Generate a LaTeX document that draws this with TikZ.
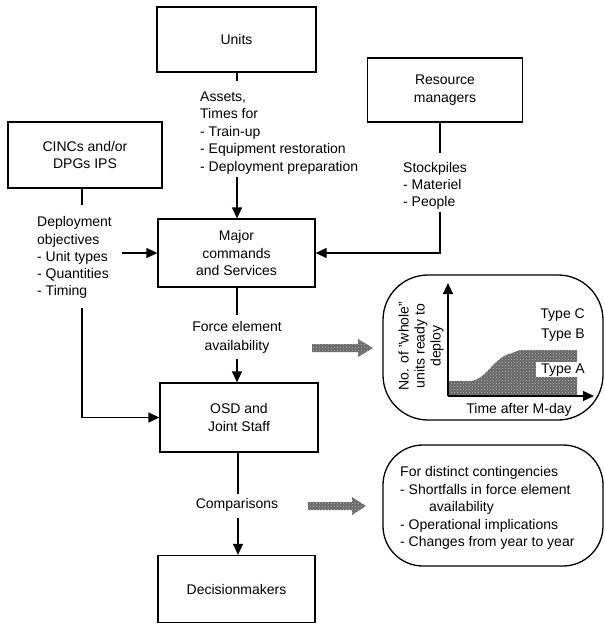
\documentclass[tikz,border=0pt]{standalone}
\usepackage{fontspec}
\setmainfont{Liberation Sans}
\usetikzlibrary{arrows.meta,patterns}
\begin{document}
\begin{tikzpicture}[x=1pt,y=-1pt,
  every node/.style={font=\fontsize{14}{17.5}\selectfont, inner sep=0pt},
  box/.style={draw, line width=1.3pt, align=center},
  ln/.style={line width=1.3pt},
  arr/.style={line width=1.3pt, -{Triangle[length=11pt,width=10pt]}},
  txt/.style={align=left, anchor=north west},
  hatch/.style={fill=black!60, postaction={pattern=crosshatch dots, pattern color=white!75!black}},
  oval/.style={draw, line width=1.3pt}
]
\useasboundingbox (0,0) rectangle (605,625);

% boxes
\node[box, minimum width=159, minimum height=65] (units) at (236.5,39.5) {Units};
\node[box, minimum width=155, minimum height=64] (rm) at (445,90) {Resource\\managers};
\node[box, minimum width=154, minimum height=66] (cincs) at (85,155) {CINCs and/or\\DPGs IPS};
\node[box, minimum width=157, minimum height=68] (mc) at (236.5,253) {Major\\commands\\and Services};
\node[box, minimum width=158, minimum height=69] (osd) at (239,417.5) {OSD and\\Joint Staff};
\node[box, minimum width=157, minimum height=67] (dec) at (236.5,589) {Decisionmakers};

% flow labels
\node[txt] (assets) at (200,91.5) {Assets,\\Times for\\- Train-up\\- Equipment restoration\\- Deployment preparation};
\node[txt, font=\fontsize{14}{17}\selectfont] (stock) at (403,162.5) {Stockpiles\\- Materiel\\- People};
\node[txt, font=\fontsize{14}{17.25}\selectfont] (depl) at (37,216.5) {Deployment\\objectives\\- Unit types\\- Quantities\\- Timing};
\node[align=center, font=\fontsize{14}{19}\selectfont] (fea) at (237,337.5) {Force element\\availability};
\node (comp) at (237,505) {Comparisons};

% connectors
\coordinate (u1) at (237,81);
\coordinate (u2) at (237,177);
\draw[ln] (units.south -| u1) -- (u1);
\draw[arr] (u2) -- (u2 |- mc.north);

\coordinate (r1) at (440,153);
\coordinate (r2) at (440,212);
\draw[ln] (rm.south -| r1) -- (r1);
\draw[arr] (r2) |- (mc.east);

\coordinate (c1) at (82,205);
\draw[ln] (cincs.south -| c1) -- (c1);
\coordinate (c2) at (122,253);
\draw[arr] (c2) -- (mc.west);
\coordinate (c3) at (82,308);
\draw[arr] (c3) |- (osd.west);

\coordinate (m1) at (237,315);
\coordinate (m2) at (237,359);
\draw[ln] (mc.south -| m1) -- (m1);
\draw[arr] (m2) -- (m2 |- osd.north);

\coordinate (o1) at (238,494);
\coordinate (o2) at (238,518);
\draw[ln] (osd.south -| o1) -- (o1);
\draw[arr] (o2) -- (o2 |- dec.north);

% hatched block arrows
\path[hatch] (312,344) -- (358,344) -- (358,339) -- (373,348) -- (358,357) -- (358,352) -- (312,352) -- cycle;
\path[hatch] (308,502) -- (352,502) -- (352,497) -- (366,506) -- (352,515) -- (352,510) -- (308,510) -- cycle;

% chart panel
\node[oval, rounded corners=45pt, minimum width=220, minimum height=145] (chart) at (493,347.5) {};
\path[hatch] (448,395) -- (448,381) -- (472,381) .. controls (487,378) and (494,357) .. (512,353) -- (520,350) -- (577,350) -- (577,395) -- cycle;
\fill[white] (536,362) rectangle (578,377);
\coordinate (org) at (448,396);
\coordinate (ytip) at (448,283);
\coordinate (xtip) at (594,396);
\draw[arr] (org) -- (ytip);
\draw[arr] (org) -- (xtip);
\node[anchor=east] (tc) at (585,315) {Type C};
\node[anchor=east] (tb) at (585,335) {Type B};
\node[anchor=east] (ta) at (585,370) {Type A};
\node[rotate=90, align=center, font=\fontsize{14}{16}\selectfont] (ylab) at (421,346) {No. of "whole"\\units ready to\\deploy};
\node (xlab) at (519,410) {Time after M-day};

% contingencies panel
\node[oval, rounded corners=40pt, minimum width=220, minimum height=121] (cont) at (493,505.5) {};
\node[txt] (conttxt) at (400,466.5) {For distinct contingencies\\- Shortfalls in force element\\\hspace*{29pt}availability\\- Operational implications\\- Changes from year to year};
\end{tikzpicture}
\end{document}
